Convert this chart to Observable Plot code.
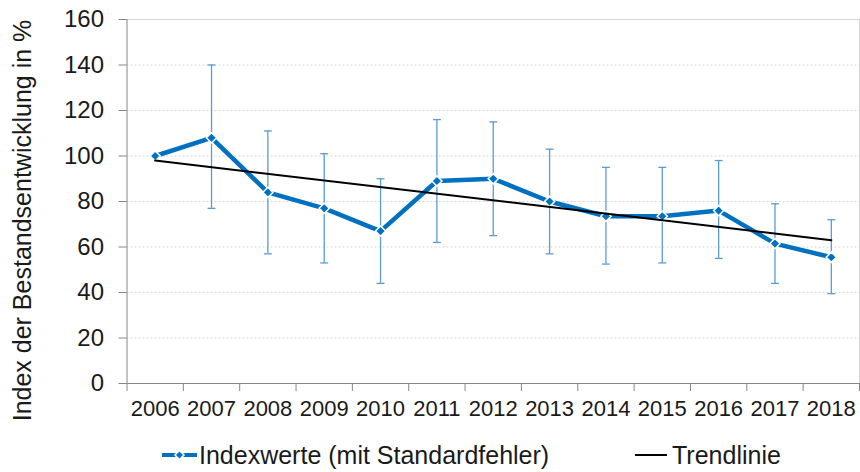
<!DOCTYPE html>
<html><head><meta charset="utf-8">
<script src="https://cdn.jsdelivr.net/npm/d3@7"></script>
<script src="https://cdn.jsdelivr.net/npm/@observablehq/plot@0.6"></script>
<style>
body{margin:0;background:#fff;font-family:"Liberation Sans",Arial,sans-serif;}
#wrap{position:relative;width:860px;height:472px;overflow:hidden;background:#fff}
#wrap > svg:first-child{position:absolute;left:0;top:0}
.leg{position:absolute;font-size:25px;line-height:25px;color:#1a1a1a;white-space:nowrap}
.mk{position:absolute}
</style></head><body><div id="wrap"></div>
<script>
// ---- data ----
const years = [2006, 2007, 2008, 2009, 2010, 2011, 2012, 2013, 2014, 2015, 2016, 2017, 2018];
const values = [100, 108, 84, 77, 67, 89, 90, 80, 73.5, 73.5, 76, 61.5, 55.5];
const errLow = [null, 77, 57, 53, 44, 62, 65, 57, 52.5, 53, 55, 44, 39.5];
const errHigh = [null, 140, 111, 101, 90, 116, 115, 103, 95, 95, 98, 79, 72];
const trendYears = [2006, 2018];
const trendValues = [98, 63];
const yTicks = [0, 20, 40, 60, 80, 100, 120, 140, 160];
const yTitle = "Index der Bestandsentwicklung in %";
const seriesName = "Indexwerte (mit Standardfehler)";
const trendName = "Trendlinie";

const data = years.map((year, i) => ({year, value: values[i], lo: errLow[i], hi: errHigh[i]}));
const errData = data.filter(d => d.lo != null);
const trend = trendYears.map((year, i) => ({year, value: trendValues[i]}));
const bounds = [...years.map(y => y - 0.5), years[years.length - 1] + 0.5];
const xDomain = [bounds[0], bounds[bounds.length - 1]];
const cap = 0.07;

const blue = "#0070C0", errBlue = "#5B9BD5", axisGray = "#868686", gridGray = "#d6d6d6", txt = "#1a1a1a";

const chart = Plot.plot({
  width: 860, height: 430,
  marginLeft: 126.5, marginRight: 1, marginTop: 19, marginBottom: 47,
  style: {fontFamily: "'Liberation Sans', Arial, sans-serif", color: txt, background: "white", overflow: "visible"},
  x: {type: "linear", domain: xDomain},
  y: {domain: [yTicks[0], yTicks[yTicks.length - 1]]},
  marks: [
    Plot.ruleY(yTicks.slice(1, -1), {stroke: gridGray, strokeDasharray: "2,2"}),
    Plot.ruleY(yTicks.slice(-1), {stroke: gridGray}),
    Plot.ruleX(xDomain.slice(1), {stroke: gridGray}),
    Plot.axisY({ticks: yTicks, tickSize: 8, tickPadding: 15, fontSize: 24, label: null, stroke: axisGray}),
    Plot.axisX({ticks: bounds, tickSize: 8, tickFormat: () => "", label: null, stroke: axisGray}),
    Plot.axisX({ticks: years, tickSize: 0, tickPadding: 17, tickFormat: d => String(d), fontSize: 22, label: null}),
    Plot.ruleX(xDomain.slice(0, 1), {stroke: axisGray}),
    Plot.ruleY([0], {stroke: axisGray}),
    Plot.ruleX(errData, {x: "year", y1: "lo", y2: "hi", stroke: errBlue, strokeWidth: 1.3}),
    Plot.link(errData, {x1: d => d.year - cap, x2: d => d.year + cap, y1: "lo", y2: "lo", stroke: errBlue, strokeWidth: 1.3}),
    Plot.link(errData, {x1: d => d.year - cap, x2: d => d.year + cap, y1: "hi", y2: "hi", stroke: errBlue, strokeWidth: 1.3}),
    Plot.line(data, {x: "year", y: "value", stroke: blue, strokeWidth: 4.5}),
    Plot.dot(data, {x: "year", y: "value", symbol: "diamond2", r: 4.6, fill: blue, stroke: "white", strokeWidth: 1.5}),
    Plot.line(trend, {x: "year", y: "value", stroke: "#000", strokeWidth: 2}),
    Plot.text([yTitle], {frameAnchor: "left", textAnchor: "middle", lineAnchor: "middle", rotate: -90, dx: -104.5, dy: 19, fontSize: 25, fill: txt})
  ]
});

const wrap = document.getElementById("wrap");
wrap.appendChild(chart);

// legend (below the plot)
wrap.insertAdjacentHTML("beforeend", `
<svg class="mk" style="left:160px;top:447px" width="40" height="16">
  <line x1="2" x2="37" y1="8" y2="8" stroke="${blue}" stroke-width="4"/>
  <polygon points="19.5,3.5 24,8 19.5,12.5 15,8" fill="${blue}" stroke="white" stroke-width="1.5"/>
</svg>
<span class="leg" style="left:199px;top:443px">${seriesName}</span>
<svg class="mk" style="left:633px;top:447px" width="36" height="16">
  <line x1="2" x2="34" y1="8" y2="8" stroke="#000" stroke-width="2"/>
</svg>
<span class="leg" style="left:672px;top:443px">${trendName}</span>
`);
</script></body></html>
